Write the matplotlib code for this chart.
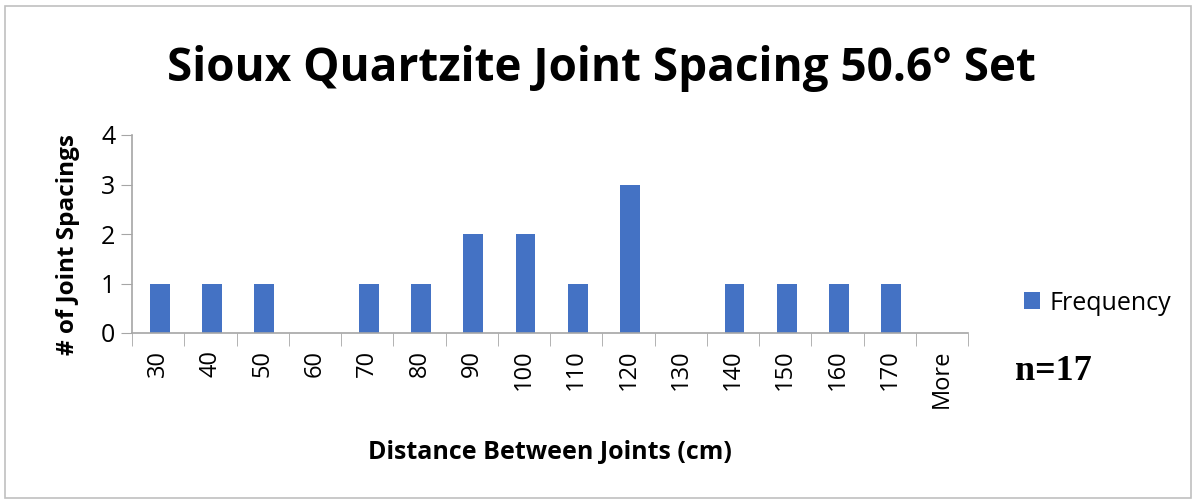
import numpy as np
import matplotlib
matplotlib.use("Agg")
from matplotlib import pyplot as plt
from matplotlib.patches import Rectangle

categories = ["30", "40", "50", "60", "70", "80", "90", "100", "110", "120",
              "130", "140", "150", "160", "170", "More"]
frequency = [1, 1, 1, 0, 1, 1, 2, 2, 1, 3, 0, 1, 1, 1, 1, 0]

plt.rcParams['font.family'] = ['Open Sans', 'DejaVu Sans']
bar_color = '#4472C4'
axis_color = '#A6A6A6'

fig = plt.figure(figsize=(11.96, 5.0), dpi=100)
ax = fig.add_axes([0.1104, 0.334, 0.699, 0.396])

x = np.arange(len(categories))
ax.bar(x + 0.03, frequency, width=0.38, color=bar_color, label='Frequency', zorder=2)

ax.set_xlim(-0.5, len(categories) - 0.5)
ax.set_ylim(0, 4)
ax.set_yticks([0, 1, 2, 3, 4])
ax.tick_params(axis='y', length=8, color=axis_color, labelsize=18, pad=4)
ax.set_xticks(x)
ax.set_xticklabels(categories, rotation=90, fontsize=17)
ax.tick_params(axis='x', which='major', length=0, pad=12)
ax.set_xticks(np.arange(-0.5, len(categories)), minor=True)
ax.tick_params(axis='x', which='minor', length=9, color=axis_color)

for s in ['top', 'right']:
    ax.spines[s].set_visible(False)
for s in ['left', 'bottom']:
    ax.spines[s].set_color(axis_color)
    ax.spines[s].set_linewidth(1.2)

fig.text(0.503, 0.862, 'Sioux Quartzite Joint Spacing 50.6° Set', ha='center',
         va='center', fontsize=33, fontweight='bold')
fig.text(0.057, 0.51, '# of Joint Spacings', rotation=90, ha='center', va='center',
         fontsize=17.5, fontweight='bold')
fig.text(0.46, 0.096, 'Distance Between Joints (cm)', ha='center', va='center',
         fontsize=18, fontweight='bold')

leg = fig.legend(loc='center left', bbox_to_anchor=(0.837, 0.394), frameon=False,
                 fontsize=18, handlelength=0.65, handleheight=0.65, handletextpad=0.4)

fig.text(0.849, 0.256, 'n=17', ha='left', va='center', fontsize=26,
         fontweight='bold', family=['Liberation Serif', 'DejaVu Serif'])

fig.patches.append(Rectangle((0.004, 0.004), 0.992, 0.984, transform=fig.transFigure,
                             fill=False, edgecolor='#C0C0C0', linewidth=1.2))

fig.savefig('out.png', dpi=100)
